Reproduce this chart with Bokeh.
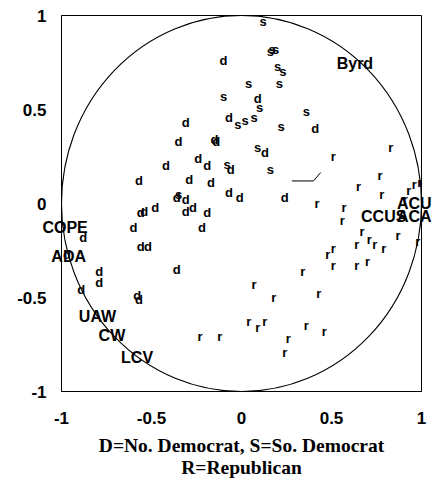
from bokeh.plotting import figure
from bokeh.models import FixedTicker, Range1d
from bokeh.core.properties import value
from bokeh.embed import file_html
from bokeh.resources import INLINE

# Northern Democrats
dem_x = [-0.10, 0.09, -0.07, 0.41, 0.13, -0.15, -0.06, -0.19, -0.24, -0.31,
         -0.35, -0.14, -0.42, -0.57, -0.29, -0.17, -0.07, -0.01, -0.36, -0.31,
         -0.31, -0.27, -0.48, -0.56, -0.54, -0.19, -0.60, -0.22, 0.24, -0.56,
         -0.52, -0.36, -0.58, -0.57, -0.88, -0.79, -0.79, -0.89, -0.97]
dem_y = [0.76, 0.56, 0.46, 0.40, 0.27, 0.34, 0.18, 0.20, 0.24, 0.43,
         0.33, 0.33, 0.20, 0.12, 0.13, 0.11, 0.06, 0.03, 0.03, 0.02,
         -0.04, -0.02, -0.02, -0.05, -0.04, -0.05, -0.13, -0.13, 0.03, -0.23,
         -0.23, -0.35, -0.49, -0.51, -0.18, -0.36, -0.42, -0.46, -0.27]

# Southern Democrats
sdem_x = [0.12, 0.16, 0.17, 0.19, 0.20, 0.23, 0.21, 0.04, -0.10, 0.10,
          -0.02, 0.02, 0.07, 0.36, 0.22, 0.09, 0.16, -0.08, -0.35]
sdem_y = [0.97, 0.81, 0.82, 0.82, 0.73, 0.70, 0.64, 0.64, 0.57, 0.51,
          0.42, 0.44, 0.46, 0.49, 0.41, 0.30, 0.18, 0.21, 0.05]

# Republicans
rep_x = [0.83, 0.51, 0.77, 0.65, 0.78, 0.42, 0.57, 0.56, 0.87, 0.67,
         0.64, 0.71, 0.74, 0.79, 0.48, 0.51, 0.51, 0.64, 0.70, 0.34,
         0.07, 0.18, 0.43, 0.04, 0.09, 0.13, 0.36, 0.46, 0.26, 0.24,
         -0.23, -0.12, 0.98, 0.99, 0.96, 0.93, 0.91]
rep_y = [0.30, 0.25, 0.15, 0.09, 0.05, 0.00, -0.02, -0.09, -0.17, -0.15,
         -0.22, -0.19, -0.22, -0.24, -0.27, -0.24, -0.33, -0.33, -0.31, -0.36,
         -0.43, -0.50, -0.48, -0.63, -0.66, -0.63, -0.65, -0.68, -0.72, -0.79,
         -0.71, -0.71, -0.20, 0.11, 0.10, 0.07, 0.02]

# Interest groups and named senator
group_names = ["Byrd", "COPE", "ADA", "UAW", "CW", "LCV", "CCUS", "ACU", "ACA"]
group_x = [0.63, -0.98, -0.96, -0.80, -0.72, -0.58, 0.79, 0.96, 0.96]
group_y = [0.745, -0.13, -0.28, -0.60, -0.70, -0.82, -0.07, 0.00, -0.07]

# Small bent stroke inside the circle
bracket_x = [0.28, 0.40, 0.44]
bracket_y = [0.12, 0.12, 0.165]

circle_radius = 1.0
tick_values = [-1, -0.5, 0, 0.5, 1]
tick_labels = ["-1", "-0.5", "0", "0.5", "1"]
caption = "D=No. Democrat, S=So. Democrat\nR=Republican"

p = figure(width=433, height=485, output_backend="svg", toolbar_location=None,
           x_range=Range1d(-1, 1), y_range=Range1d(-1, 1),
           min_border_left=61, min_border_right=12, min_border_top=15,
           min_border_bottom=94)
p.grid.visible = False
p.background_fill_color = "white"
p.border_fill_color = "white"
p.outline_line_color = "black"
p.outline_line_width = 1

for ax in (p.xaxis[0], p.yaxis[0]):
    ax.ticker = FixedTicker(ticks=tick_values)
    ax.major_label_overrides = {v: t for v, t in zip(tick_values, tick_labels)}
    ax.major_tick_line_color = None
    ax.minor_tick_line_color = None
    ax.major_tick_out = 0
    ax.major_tick_in = 0
    ax.axis_line_color = "black"
    ax.major_label_text_font = "Liberation Sans"
    ax.major_label_text_font_style = "bold"
    ax.major_label_text_font_size = "17px"
    ax.major_label_text_color = "black"
p.xaxis.major_label_standoff = 20
p.yaxis.major_label_standoff = 15

p.xaxis.axis_label = caption
p.xaxis.axis_label_text_font = "Liberation Serif"
p.xaxis.axis_label_text_font_style = "bold"
p.xaxis.axis_label_text_font_size = "19.5px"
p.xaxis.axis_label_text_line_height = 1.05
p.xaxis.axis_label_text_color = "black"
p.xaxis.axis_label_standoff = 8

# unit circle
p.ellipse(x=[0], y=[0], width=[2 * circle_radius], height=[2 * circle_radius],
          fill_color=None, line_color="black", line_width=1.1)

p.line(bracket_x, bracket_y, line_color="black", line_width=1)

letter_style = dict(text_font=value("Liberation Sans"), text_font_style="bold",
                    text_font_size="13px", text_align="center",
                    text_baseline="middle", text_color="black")

p.text(x=dem_x, y=dem_y, text=["d"] * len(dem_x), **letter_style)
p.text(x=sdem_x, y=sdem_y, text=["s"] * len(sdem_x), **letter_style)
p.text(x=rep_x, y=rep_y, text=["r"] * len(rep_x), **letter_style)

# group names drawn on the overlay level so names at the box edge run past it
p.text(x=group_x, y=group_y, text=group_names, level="overlay",
       text_font=value("Liberation Sans"), text_font_style="bold",
       text_font_size="16px", text_align="center", text_baseline="middle",
       text_color="black")

open("out.html", "w").write(file_html(p, INLINE))
